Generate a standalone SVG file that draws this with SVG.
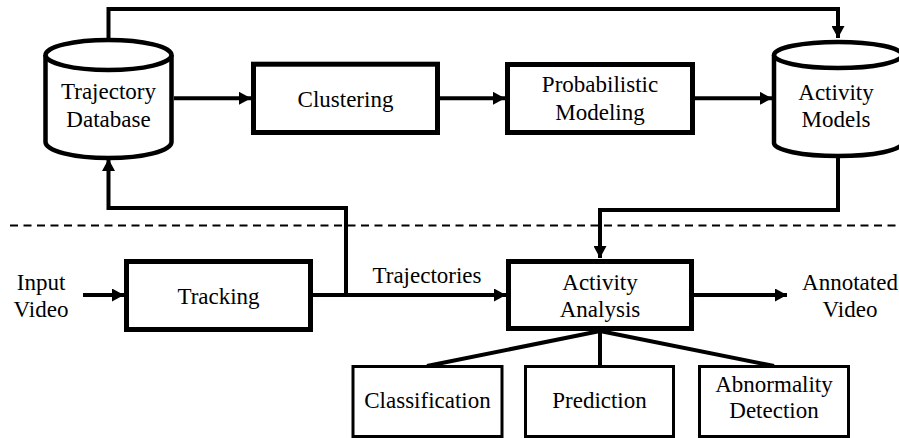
<svg xmlns="http://www.w3.org/2000/svg" width="899" height="438" viewBox="0 0 899 438">
<style>
text{font-family:'Liberation Serif','Times New Roman',serif;font-size:23px;fill:#000;text-anchor:middle}
.box{fill:#fff;stroke:#000;stroke-width:5}
.sbox{fill:#fff;stroke:#000;stroke-width:3}
.cyl{fill:#fff;stroke:#000;stroke-width:4.5}
.ln{fill:none;stroke:#000;stroke-width:4}
.arr{fill:none;stroke:#000;stroke-width:4;marker-end:url(#ah)}
.dash{fill:none;stroke:#000;stroke-width:2;stroke-dasharray:8 5.5}
</style>
<defs>
<marker id="ah" markerUnits="userSpaceOnUse" markerWidth="12" markerHeight="13" viewBox="0 0 12 13" refX="12" refY="6.5" orient="auto">
<path d="M0,0 L12,6.5 L0,13 Z" fill="#000"/>
</marker>
</defs>
<rect width="899" height="438" fill="#fff"/>
<line class="dash" x1="10" y1="225.5" x2="899" y2="225.5"/>
<g id="connectors">
<path class="arr" d="M108.5,40 V9 H838 V38"/>
<path class="arr" d="M174,98.3 H251"/>
<path class="arr" d="M440,98.3 H505"/>
<path class="arr" d="M695,98.3 H772"/>
<path class="arr" d="M838,157 V210 H600 V258"/>
<path class="arr" d="M346,295 V208 H108.5 V159"/>
<path class="arr" d="M83,295 H124"/>
<path class="arr" d="M313,295 H506"/>
<path class="arr" d="M694,295 H787"/>
<path class="ln" d="M600,331 L427,366 M600,331 V366 M600,331 L774,366"/>
<text x="427" y="283">Trajectories</text>
</g>
<g id="trajectory-database">
<path class="cyl" d="M45.5,55 V142 A63,16 0 0 0 171.5,142 V55"/>
<ellipse class="cyl" cx="108.5" cy="55" rx="63" ry="15"/>
<text x="108.5" y="98.5">Trajectory</text>
<text x="108.5" y="127">Database</text>
</g>
<g id="clustering">
<rect class="box" x="253.5" y="64.2" width="184" height="68.3"/>
<text x="345.5" y="106.7">Clustering</text>
</g>
<g id="probabilistic-modeling">
<rect class="box" x="507.5" y="64.5" width="185" height="68"/>
<text x="600" y="92">Probabilistic</text>
<text x="600" y="120">Modeling</text>
</g>
<g id="activity-models">
<path class="cyl" d="M774,55 V143 A64,13 0 0 0 902,143 V55"/>
<ellipse class="cyl" cx="838" cy="55" rx="64" ry="13"/>
<text x="836" y="100">Activity</text>
<text x="836" y="127">Models</text>
</g>
<g id="input-video">
<text x="41" y="290">Input</text>
<text x="41" y="317">Video</text>
</g>
<g id="tracking">
<rect class="box" x="126.5" y="261.5" width="184" height="68"/>
<text x="218.5" y="303.5">Tracking</text>
</g>
<g id="activity-analysis">
<rect class="box" x="508.5" y="261.5" width="183" height="67"/>
<text x="600" y="290">Activity</text>
<text x="600" y="317">Analysis</text>
</g>
<g id="annotated-video">
<text x="850" y="290">Annotated</text>
<text x="850" y="317">Video</text>
</g>
<g id="classification">
<rect class="sbox" x="353" y="366.5" width="149" height="70"/>
<text x="427.5" y="408">Classification</text>
</g>
<g id="prediction">
<rect class="sbox" x="525.5" y="366.5" width="148" height="70"/>
<text x="599.5" y="408">Prediction</text>
</g>
<g id="abnormality-detection">
<rect class="sbox" x="699.5" y="366.5" width="149" height="70"/>
<text x="774" y="392">Abnormality</text>
<text x="774" y="418">Detection</text>
</g>
</svg>
